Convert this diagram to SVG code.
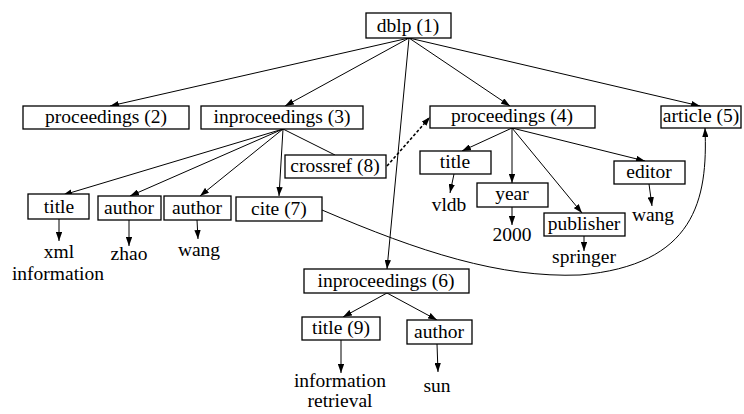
<svg xmlns="http://www.w3.org/2000/svg" width="744" height="414" viewBox="0 0 744 414">
<style>
.box{fill:#fff;stroke:#000;stroke-width:1.3}
text{font-size:19.5px;fill:#000;text-anchor:middle}
.e{fill:none;stroke:#000;stroke-width:1}
.a{marker-end:url(#ah)}
.d{stroke-width:1.6;stroke-dasharray:3,2}
</style>
<defs>
<marker id="ah" viewBox="0 0 10 7" refX="10" refY="3.5" markerWidth="9" markerHeight="6.3" orient="auto" markerUnits="userSpaceOnUse">
<path d="M0,0 L10,3.5 L0,7 Z" fill="#000"/>
</marker>
</defs>
<rect width="744" height="414" fill="#fff"/>
<g id="connectors">
<line class="e a" x1="409" y1="38" x2="110" y2="106"/>
<line class="e a" x1="409" y1="38" x2="285" y2="106"/>
<line class="e a" x1="409" y1="38" x2="510" y2="106"/>
<line class="e a" x1="409" y1="38" x2="700" y2="106"/>
<line class="e a" x1="409" y1="38" x2="387" y2="269"/>
<line class="e a" x1="283" y1="129" x2="63" y2="195"/>
<line class="e a" x1="283" y1="129" x2="130" y2="196"/>
<line class="e a" x1="283" y1="129" x2="200" y2="196"/>
<line class="e a" x1="283" y1="129" x2="279" y2="196"/>
<line class="e" x1="283" y1="129" x2="335" y2="155"/>
<line class="e a d" x1="387" y1="166" x2="430" y2="117"/>
<line class="e a" x1="512" y1="128" x2="462" y2="151"/>
<line class="e a" x1="512" y1="128" x2="512" y2="183"/>
<line class="e a" x1="512" y1="128" x2="582" y2="213"/>
<line class="e a" x1="512" y1="128" x2="645" y2="161"/>
<line class="e a" x1="59" y1="219" x2="59" y2="241"/>
<line class="e a" x1="129" y1="220" x2="129" y2="246"/>
<line class="e a" x1="197" y1="220" x2="198" y2="239"/>
<line class="e a" x1="454" y1="174" x2="450" y2="193"/>
<line class="e a" x1="512" y1="207" x2="512" y2="225"/>
<line class="e a" x1="584" y1="236" x2="584" y2="251"/>
<line class="e a" x1="649" y1="184" x2="652" y2="206"/>
<path class="e a" d="M322,210 C420,252 500,278 580,275 C695,265 708,200 705,128"/>
<line class="e a" x1="387" y1="293" x2="343" y2="317"/>
<line class="e a" x1="387" y1="293" x2="437" y2="320"/>
<line class="e a" x1="341" y1="340" x2="341" y2="373"/>
<line class="e a" x1="437" y1="344" x2="438" y2="372"/>
</g>
<g font-family="Liberation Serif, DejaVu Serif, serif">
<g id="dblp1"><rect class="box" x="366" y="13" width="85" height="25"/><text x="408" y="32">dblp (1)</text></g>
<g id="proceedings2"><rect class="box" x="23" y="106" width="166" height="23"/><text x="106" y="123">proceedings (2)</text></g>
<g id="inproceedings3"><rect class="box" x="201" y="106" width="162" height="23"/><text x="282" y="123">inproceedings (3)</text></g>
<g id="proceedings4"><rect class="box" x="430" y="106" width="165" height="22"/><text x="512" y="122">proceedings (4)</text></g>
<g id="article5"><rect class="box" x="661" y="106" width="80" height="22"/><text x="701" y="122">article (5)</text></g>
<g id="title3"><rect class="box" x="28" y="194" width="61" height="25"/><text x="59" y="213">title</text></g>
<g id="author3a"><rect class="box" x="98" y="196" width="63" height="24"/><text x="129" y="214">author</text></g>
<g id="author3b"><rect class="box" x="164" y="196" width="67" height="24"/><text x="197" y="214">author</text></g>
<g id="cite7"><rect class="box" x="236" y="197" width="86" height="24"/><text x="279" y="215">cite (7)</text></g>
<g id="crossref8"><rect class="box" x="285" y="155" width="101" height="23"/><text x="335" y="172">crossref (8)</text></g>
<g id="title4"><rect class="box" x="420" y="151" width="71" height="23"/><text x="455" y="168">title</text></g>
<g id="year4"><rect class="box" x="477" y="183" width="71" height="24"/><text x="512" y="200">year</text></g>
<g id="publisher4"><rect class="box" x="544" y="213" width="81" height="23"/><text x="584" y="230">publisher</text></g>
<g id="editor4"><rect class="box" x="614" y="161" width="71" height="23"/><text x="649" y="178">editor</text></g>
<g id="inproceedings6"><rect class="box" x="304" y="269" width="165" height="24"/><text x="386" y="287">inproceedings (6)</text></g>
<g id="title9"><rect class="box" x="302" y="317" width="78" height="23"/><text x="341" y="334">title (9)</text></g>
<g id="author6"><rect class="box" x="407" y="320" width="65" height="24"/><text x="439" y="338">author</text></g>
<g id="leaves">
<text x="59" y="258">xml</text>
<text x="58" y="280">information</text>
<text x="129" y="260">zhao</text>
<text x="199" y="256">wang</text>
<text x="449" y="211">vldb</text>
<text x="512" y="241">2000</text>
<text x="584" y="263">springer</text>
<text x="653" y="221">wang</text>
<text x="340" y="387">information</text>
<text x="340" y="407">retrieval</text>
<text x="437" y="392">sun</text>
</g>
</g>
</svg>
